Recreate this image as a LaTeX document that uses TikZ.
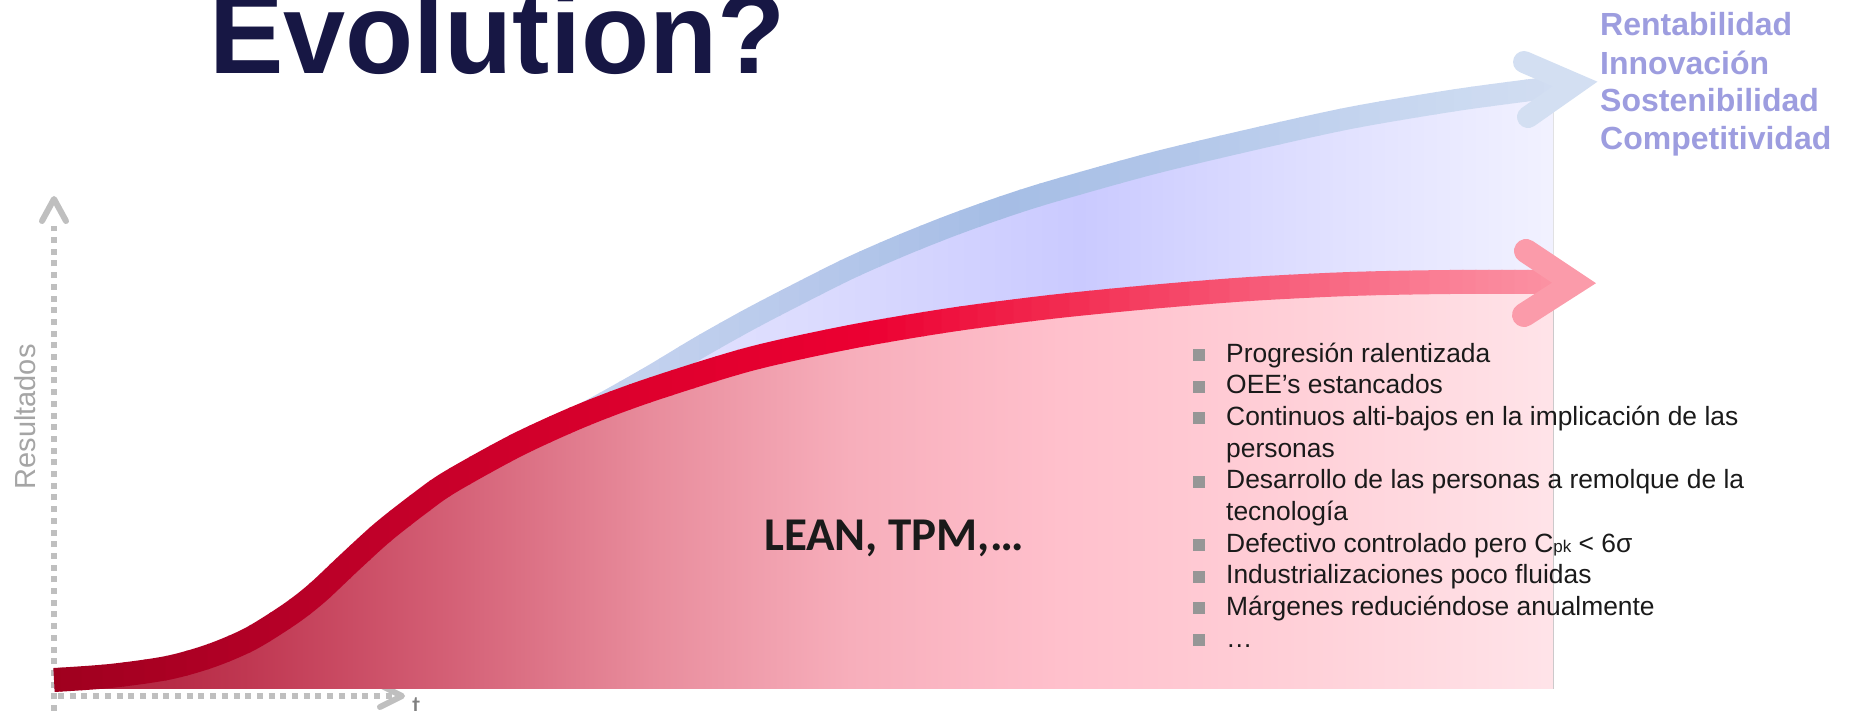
\documentclass[tikz,border=0pt]{standalone}
\usepackage{fontspec}
\usepackage{graphicx}
\setmainfont{Liberation Sans}
\newfontfamily\carlito{Carlito}
% red stroke stops
\definecolor{R0}{RGB}{158,0,30}
\definecolor{R1}{RGB}{178,0,38}
\definecolor{R2}{RGB}{200,0,42}
\definecolor{R3}{RGB}{222,0,45}
\definecolor{R4}{RGB}{236,0,50}
\definecolor{R5}{RGB}{242,40,78}
\definecolor{R6}{RGB}{247,88,118}
\definecolor{R7}{RGB}{250,128,150}
\definecolor{R8}{RGB}{251,150,166}
\definecolor{Rhead}{RGB}{251,155,170}
% blue stroke stops
\definecolor{B0}{RGB}{200,213,240}
\definecolor{B1}{RGB}{198,212,239}
\definecolor{B2}{RGB}{184,201,235}
\definecolor{B3}{RGB}{165,189,229}
\definecolor{B4}{RGB}{180,200,234}
\definecolor{B5}{RGB}{200,215,240}
\definecolor{B6}{RGB}{210,222,242}
\definecolor{Bhead}{RGB}{211,223,242}
% red fill stops
\definecolor{F0}{RGB}{168,24,52}
\definecolor{F1}{RGB}{192,56,82}
\definecolor{F2}{RGB}{212,96,118}
\definecolor{F3}{RGB}{232,140,156}
\definecolor{F4}{RGB}{247,174,187}
\definecolor{F5}{RGB}{255,192,204}
\definecolor{F6}{RGB}{255,208,216}
\definecolor{F7}{RGB}{255,228,233}
% lavender fill stops
\definecolor{L0}{RGB}{228,228,255}
\definecolor{L1}{RGB}{228,228,255}
\definecolor{L2}{RGB}{220,220,254}
\definecolor{L3}{RGB}{202,202,255}
\definecolor{L4}{RGB}{222,222,255}
\definecolor{L5}{RGB}{242,242,255}
% others
\definecolor{axisgray}{RGB}{191,191,191}
\definecolor{titlecol}{RGB}{23,23,68}
\definecolor{labcol}{RGB}{157,157,223}
\definecolor{txtcol}{RGB}{26,26,26}
\definecolor{bulletgray}{RGB}{150,150,150}
\definecolor{resgray}{RGB}{165,165,165}
\definecolor{tgray}{RGB}{127,127,127}
\tikzset{
  redc/.style={insert path={-- plot[smooth,tension=0.5] coordinates {(54,680) (110,676) (167,668) (210,656) (250,639) (290,614) (317,593) (350,562) (383,532) (420,503) (450,482) (517,445) (583,415) (650,390) (750,359) (850,337) (950,320) (1050,307) (1150,297) (1250,289) (1350,284) (1450,282) (1565,282)}}},
  bluec/.style={insert path={-- plot[smooth,tension=0.5] coordinates {(54,680) (110,676) (167,668) (210,656) (250,639) (290,614) (317,593) (350,562) (383,532) (420,503) (450,482) (517,444) (560,425) (593,409) (650,377) (700,347) (750,319) (800,293) (850,268) (900,246) (950,226) (1000,208) (1050,192) (1150,164) (1250,140) (1350,118) (1450,101) (1523,91) (1565,86)}}},
  axisline/.style={line width=6pt, color=axisgray, dash pattern=on 6pt off 5.7pt},
  axishead/.style={line width=6pt, color=axisgray, line cap=round, line join=round},
  bullettext/.style={anchor=base west, inner sep=0pt, text=txtcol, font=\fontsize{26.4}{31.7}\selectfont},
  labeltext/.style={anchor=base west, inner sep=0pt, text=labcol, font=\fontsize{32}{38}\selectfont\bfseries},
}
\begin{document}
\begin{tikzpicture}[x=1pt,y=-1pt]
\useasboundingbox (0,0) rectangle (1849,711);
% axes
\draw[axisline] (54,711) -- (54,226);
\draw[axishead] (42,221) -- (54,199) -- (66,221);
\draw[axisline] (58,696) -- (396,696);
\draw[axishead] (380,685) -- (402,696) -- (380,707);
% lavender fill
\begin{scope}
  \clip (54,0) rectangle (1553,688);
  \clip (54,690) -- (54,680) [bluec] -- (1600,86) -- (1600,690) -- cycle;
  \foreach \xa/\xb/\ca/\cb in {40/560/L0/L1,560/800/L1/L2,800/1080/L2/L3,1080/1300/L3/L4,1300/1560/L4/L5}
    \fill[left color=\ca,right color=\cb] (\xa-0.5,0) rectangle (\xb+0.5,711);
\end{scope}
% red fill
\begin{scope}
  \clip (54,0) rectangle (1553,688);
  \clip (54,690) -- (54,680) [redc] -- (1600,282) -- (1600,690) -- cycle;
  \foreach \xa/\xb/\ca/\cb in {40/250/F0/F1,250/450/F1/F2,450/650/F2/F3,650/850/F3/F4,850/1060/F4/F5,1060/1300/F5/F6,1300/1560/F6/F7}
    \fill[left color=\ca,right color=\cb] (\xa-0.5,0) rectangle (\xb+0.5,711);
\end{scope}
% blue stroke
\foreach \xa/\xb/\ca/\cb in {40/600/B0/B1,600/800/B1/B2,800/1000/B2/B3,1000/1200/B3/B4,1200/1400/B4/B5,1400/1580/B5/B6}{
  \foreach \k in {0,...,9}{
    \pgfmathsetmacro\xl{\xa+(\xb-\xa)*\k/10}
    \pgfmathsetmacro\xr{\xa+(\xb-\xa)*(\k+1)/10}
    \pgfmathtruncatemacro\pc{(\k+0.5)*10}
    \colorlet{cc}{\cb!\pc!\ca}
    \begin{scope}
      \clip (\xl-0.6,0) rectangle (\xr+0.6,711);
      \draw[line width=22pt, cc] (54,680) [bluec];
    \end{scope}
  }
}
\draw[line width=22pt, Bhead, line cap=round, line join=miter] (1524,62) -- (1575,84) -- (1528,117);
% red stroke
\foreach \xa/\xb/\ca/\cb in {40/250/R0/R1,250/450/R1/R2,450/650/R2/R3,650/870/R3/R4,870/1050/R4/R5,1050/1250/R5/R6,1250/1450/R6/R7,1450/1580/R7/R8}{
  \foreach \k in {0,...,9}{
    \pgfmathsetmacro\xl{\xa+(\xb-\xa)*\k/10}
    \pgfmathsetmacro\xr{\xa+(\xb-\xa)*(\k+1)/10}
    \pgfmathtruncatemacro\pc{(\k+0.5)*10}
    \colorlet{cc}{\cb!\pc!\ca}
    \begin{scope}
      \clip (\xl-0.6,0) rectangle (\xr+0.6,711);
      \draw[line width=24pt, cc] (54,680) [redc];
    \end{scope}
  }
}
\draw[line width=24pt, Rhead, line cap=round, line join=miter] (1526,251) -- (1574,283) -- (1524,315);
% texts
\node[anchor=base west, inner sep=0pt, text=titlecol, font=\fontsize{115}{120}\selectfont\bfseries] (title) at (209,74) {\scalebox{0.97}[1]{Evolution?}};
\node[labeltext] (lab1) at (1600,36) {Rentabilidad};
\node[labeltext] (lab2) at (1600,75) {Innovación};
\node[labeltext] (lab3) at (1600,112) {Sostenibilidad};
\node[labeltext] (lab4) at (1600,150) {Competitividad};
\node[anchor=base west, inner sep=0pt, text=txtcol, font=\carlito\bfseries\fontsize{47}{50}\selectfont] (lean) at (764,550) {LEAN, TPM,…};
\node[rotate=90, anchor=base, inner sep=0pt, text=resgray, font=\fontsize{29}{30}\selectfont] (res) at (35,417) {Resultados};
\node[anchor=base west, inner sep=0pt, text=tgray, font=\fontsize{29}{30}\selectfont] (tlab) at (412,716) {t};
% bullet list
\foreach \yy in {362,393.7,425.3,488.7,552,583.7,615.3,647}
  \fill[bulletgray] (1193,\yy-13) rectangle (1205,\yy-1);
\node[bullettext] (l1) at (1226,362) {Progresión ralentizada};
\node[bullettext] (l2) at (1226,393.7) {OEE’s estancados};
\node[bullettext] (l3) at (1226,425.3) {Continuos alti-bajos en la implicación de las};
\node[bullettext] (l4) at (1226,457) {personas};
\node[bullettext] (l5) at (1226,488.7) {Desarrollo de las personas a remolque de la};
\node[bullettext] (l6) at (1226,520.3) {tecnología};
\node[bullettext] (l7) at (1226,552) {Defectivo controlado pero C{\fontsize{17}{17}\selectfont pk} < 6σ};
\node[bullettext] (l8) at (1226,583.7) {Industrializaciones poco fluidas};
\node[bullettext] (l9) at (1226,615.3) {Márgenes reduciéndose anualmente};
\node[bullettext] (l10) at (1226,647) {…};
\end{tikzpicture}
\end{document}
